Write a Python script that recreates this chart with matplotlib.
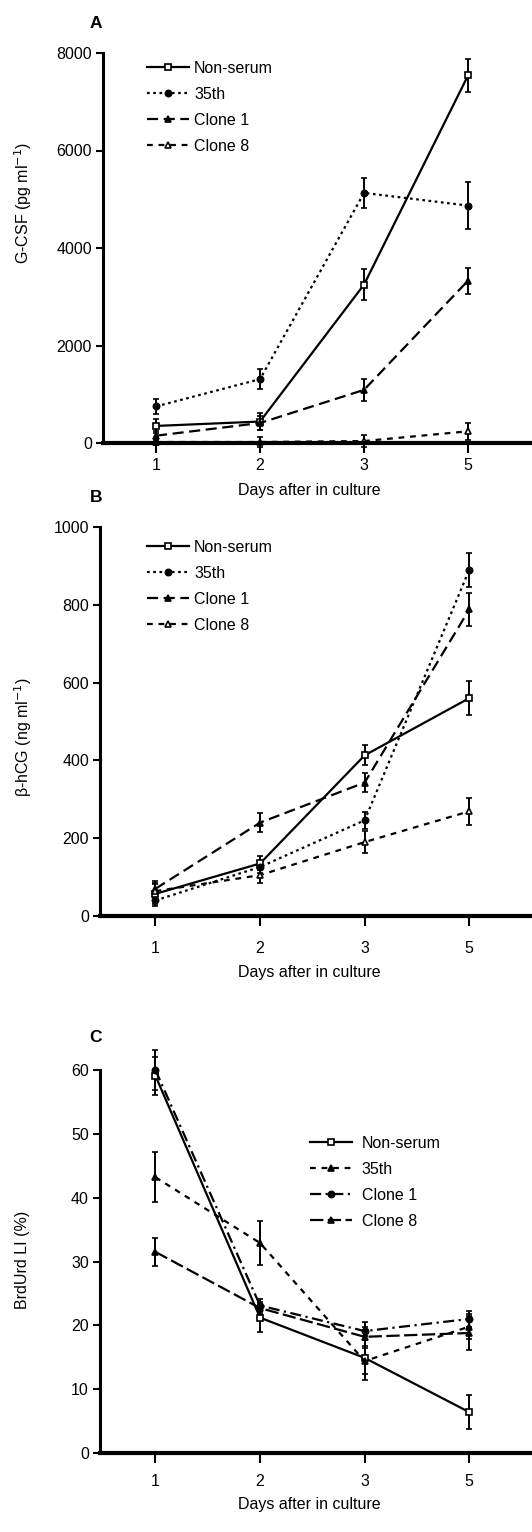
import numpy as np
import matplotlib
matplotlib.use("Agg")
import matplotlib.pyplot as plt

plt.rcParams['font.family'] = ['Liberation Sans', 'DejaVu Sans']
plt.rcParams['font.size'] = 11.5

W, H = 532, 1532

days = ['1', '2', '3', '5']
series = ['Non-serum', '35th', 'Clone 1', 'Clone 8']

# panel A: G-CSF (pg/ml)
gcsf_nonserum = [350, 440, 3250, 7540]
gcsf_35th = [750, 1310, 5130, 4870]
gcsf_clone1 = [150, 410, 1090, 3330]
gcsf_clone8 = [20, 20, 40, 240]
gcsf_err_nonserum = [140, 180, 320, 330]
gcsf_err_35th = [160, 200, 300, 490]
gcsf_err_clone1 = [90, 150, 225, 270]
gcsf_err_clone8 = [60, 110, 120, 170]

# panel B: beta-hCG (ng/ml)
hcg_nonserum = [57, 135, 413, 560]
hcg_35th = [40, 126, 246, 890]
hcg_clone1 = [70, 240, 343, 788]
hcg_clone8 = [64, 105, 190, 269]
hcg_err_nonserum = [25, 18, 26, 44]
hcg_err_35th = [15, 15, 22, 43]
hcg_err_clone1 = [20, 25, 24, 42]
hcg_err_clone8 = [20, 21, 28, 35]

# panel C: BrdUrd LI (%)
brdu_nonserum = [59.1, 21.2, 14.9, 6.4]
brdu_35th = [43.2, 32.9, 14.4, 19.8]
brdu_clone1 = [60.0, 23.1, 19.1, 21.0]
brdu_clone8 = [31.5, 22.7, 18.2, 18.8]
brdu_err_nonserum = [3.0, 2.2, 3.5, 2.7]
brdu_err_35th = [3.9, 3.4, 2.0, 2.0]
brdu_err_clone1 = [3.2, 1.0, 1.4, 1.3]
brdu_err_clone8 = [2.2, 1.0, 1.5, 2.7]

x = np.arange(1, len(days) + 1)

fig = plt.figure(figsize=(W / 100, H / 100), dpi=100)


def make_axes(left_px, zero_px, top_px, ymax, ytop, xlim, step):
    ppu = (zero_px - top_px) / ymax
    axes_top_px = zero_px - ytop * ppu
    ax = fig.add_axes([left_px / W, 1 - zero_px / H, 1 - left_px / W,
                       (zero_px - axes_top_px) / H])
    ax.set_ylim(0, ytop)
    ax.set_xlim(*xlim)
    ax.spines['top'].set_visible(False)
    ax.spines['right'].set_visible(False)
    ax.spines['left'].set_linewidth(2.2)
    ax.spines['bottom'].set_linewidth(3)
    ax.spines['left'].set_bounds(0, ymax)
    ax.set_yticks(np.arange(0, ymax + step / 2, step))
    ax.set_xticks(x)
    ax.set_xticklabels(days)
    ax.tick_params(axis='y', length=5, width=1.5, pad=3)
    ax.tick_params(axis='x', length=7, width=1.5)
    return ax


def draw(ax, vals, errs, styles):
    handles = []
    for v, e, st in zip(vals, errs, styles):
        ls, mk, mfc, ms = st
        c = ax.errorbar(x, v, yerr=e, color='black', lw=1.6, ls=ls, marker=mk,
                        mfc=mfc, mec='black', ms=ms, mew=1.2,
                        elinewidth=1.4, capsize=2.3, capthick=1.4, clip_on=False)
        handles.append(c[0])
    return handles


def finish(ax, handles, ylabel, xlab_px, ylab_px, letter_px, letter, leg_px, textpad, tickpad):
    ax.tick_params(axis='x', pad=tickpad)
    ax.set_xlabel('Days after in culture', va='center')
    ax.xaxis.set_label_coords(xlab_px[0] / W, 1 - xlab_px[1] / H, transform=fig.transFigure)
    ax.set_ylabel(ylabel, va='center')
    ax.yaxis.set_label_coords(ylab_px[0] / W, 1 - ylab_px[1] / H, transform=fig.transFigure)
    fig.text(letter_px[0] / W, 1 - letter_px[1] / H, letter, fontweight='bold',
             ha='center', va='center', fontsize=12.5)
    ax.legend(handles, series, loc='upper left',
              bbox_to_anchor=(leg_px[0] / W, 1 - leg_px[1] / H),
              bbox_transform=fig.transFigure, frameon=False, borderpad=0,
              borderaxespad=0, handlelength=2.6, handletextpad=textpad,
              labelspacing=0.68, numpoints=1, fontsize=11.5)


# A
axA = make_axes(103, 443, 53, 8000, 8000, (0.49, 4.615), 2000)
hA = draw(axA, [gcsf_nonserum, gcsf_35th, gcsf_clone1, gcsf_clone8],
          [gcsf_err_nonserum, gcsf_err_35th, gcsf_err_clone1, gcsf_err_clone8],
          [('-', 's', 'white', 4.5), ((0, (1.2, 1.6)), 'o', 'black', 4.5),
           ((0, (5, 2.5)), '^', 'black', 5), ((0, (2.6, 2.6)), '^', 'white', 5)])
finish(axA, hA, 'G-CSF (pg ml$^{-1}$)', (309, 491), (23, 203), (96, 23), 'A',
       (147, 61), 0.35, 4)

# B
axB = make_axes(100, 916, 527, 1000, 1000, (0.47, 4.6), 200)
hB = draw(axB, [hcg_nonserum, hcg_35th, hcg_clone1, hcg_clone8],
          [hcg_err_nonserum, hcg_err_35th, hcg_err_clone1, hcg_err_clone8],
          [('-', 's', 'white', 4.5), ((0, (1.2, 1.6)), 'o', 'black', 4.5),
           ((0, (5, 2.5)), '^', 'black', 5), ((0, (2.6, 2.6)), '^', 'white', 5)])
finish(axB, hB, 'β-hCG (ng ml$^{-1}$)', (309, 973), (23, 737), (96, 498), 'B',
       (147, 540), 0.35, 11)

# C
axC = make_axes(100, 1453, 1070, 60, 64, (0.47, 4.6), 10)
hC = draw(axC, [brdu_nonserum, brdu_35th, brdu_clone1, brdu_clone8],
          [brdu_err_nonserum, brdu_err_35th, brdu_err_clone1, brdu_err_clone8],
          [('-', 's', 'white', 4.5), ((0, (2.6, 2.6)), '^', 'black', 5),
           ((0, (5, 2, 1, 2)), 'o', 'black', 4.5), ((0, (6, 2)), '^', 'black', 5)])
finish(axC, hC, 'BrdUrd LI (%)', (309, 1505), (23, 1260), (96, 1037), 'C',
       (310, 1136), 0.65, 8)

fig.savefig('out.png', dpi=100)
